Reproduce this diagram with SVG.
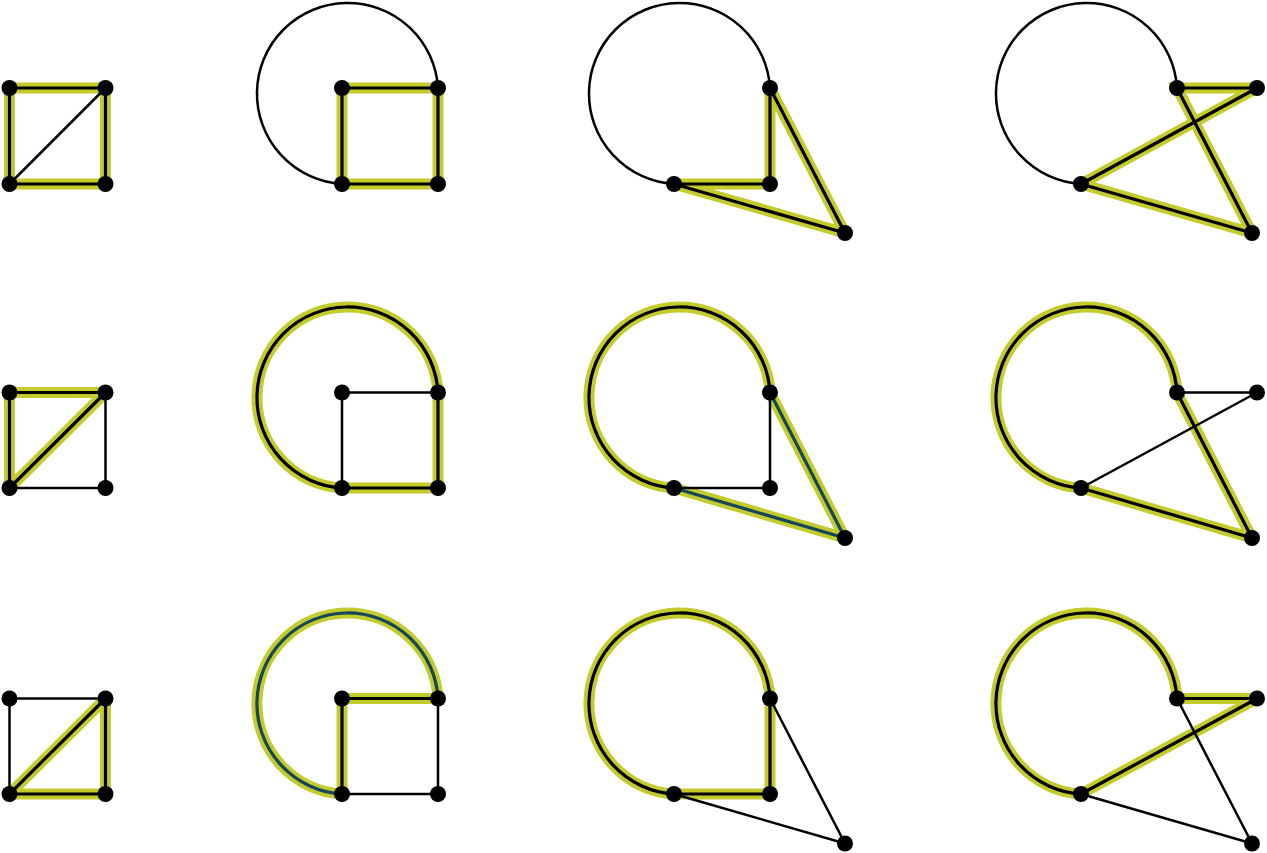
<svg xmlns="http://www.w3.org/2000/svg" width="1267" height="853" viewBox="0 0 1267 853">
<style>
.hl{fill:none;stroke:#c3cb2d;stroke-width:11;stroke-linecap:butt;stroke-linejoin:miter;stroke-miterlimit:2}
.e{fill:none;stroke:#000;stroke-width:2.5}
.ei{fill:none;stroke:#000;stroke-width:3.2;stroke-linejoin:miter;stroke-miterlimit:2}
.t{fill:none;stroke:#15465a;stroke-width:3.2;stroke-linejoin:miter;stroke-miterlimit:2}
.n{fill:#000}
</style>
<rect width="1267" height="853" fill="#fff"/>
<g id="connectors">
<g id="r1c1-edges">
<path class="hl" d="M9.5 88H105.5V184H9.5Z"/>
<path class="ei" d="M9.5 88H105.5V184H9.5Z"/>
<path class="e" d="M9.5 184L105.5 88"/>
</g>
<g id="r1c2-edges">
<path class="hl" d="M342 88H438V184H342Z"/>
<path class="ei" d="M342 88H438V184H342Z"/>
<path class="e" d="M438 88A90.6 90.6 0 1 0 342 184"/>
</g>
<g id="r1c3-edges">
<path class="hl" d="M770 88V184H674L845 233Z"/>
<path class="ei" d="M770 88V184H674L845 233Z"/>
<path class="e" d="M770 88A90.6 90.6 0 1 0 674 184"/>
</g>
<g id="r1c4-edges">
<path class="hl" d="M1177 88H1257L1081 184L1252 233Z"/>
<path class="ei" d="M1177 88H1257L1081 184L1252 233Z"/>
<path class="e" d="M1177 88A90.6 90.6 0 1 0 1081 184"/>
</g>
<g id="r2c1-edges">
<path class="hl" d="M9.5 488V392.5H105.5Z"/>
<path class="ei" d="M9.5 488V392.5H105.5Z"/>
<path class="e" d="M105.5 392.5V488H9.5"/>
</g>
<g id="r2c2-edges">
<path class="hl" d="M438 392.5A90.6 90.6 0 1 0 342 488H438V392.5"/>
<path class="ei" d="M438 392.5A90.6 90.6 0 1 0 342 488H438V392.5"/>
<path class="e" d="M342 488V392.5H438"/>
</g>
<g id="r2c3-edges">
<path class="hl" d="M770 392.5A90.6 90.6 0 1 0 674 488L845 538Z"/>
<path class="ei" d="M770 392.5A90.6 90.6 0 1 0 674 488"/>
<path class="t" d="M674 488L845 538L770 392.5"/>
<path class="e" d="M770 392.5V488H674"/>
</g>
<g id="r2c4-edges">
<path class="hl" d="M1177 392.5A90.6 90.6 0 1 0 1081 488L1252 538Z"/>
<path class="ei" d="M1177 392.5A90.6 90.6 0 1 0 1081 488L1252 538Z"/>
<path class="e" d="M1177 392.5H1257L1081 488"/>
</g>
<g id="r3c1-edges">
<path class="hl" d="M9.5 794L105.5 698.5V794Z"/>
<path class="ei" d="M9.5 794L105.5 698.5V794Z"/>
<path class="e" d="M105.5 698.5H9.5V794"/>
</g>
<g id="r3c2-edges">
<path class="hl" d="M438 698.5A90.6 90.6 0 1 0 342 794V698.5H438"/>
<path class="t" d="M438 698.5A90.6 90.6 0 1 0 342 794"/>
<path class="ei" d="M342 794V698.5H438"/>
<path class="e" d="M438 698.5V794H342"/>
</g>
<g id="r3c3-edges">
<path class="hl" d="M770 698.5A90.6 90.6 0 1 0 674 794H770Z"/>
<path class="ei" d="M770 698.5A90.6 90.6 0 1 0 674 794H770Z"/>
<path class="e" d="M770 698.5L845 843.5L674 794"/>
</g>
<g id="r3c4-edges">
<path class="hl" d="M1177 698.5A90.6 90.6 0 1 0 1081 794L1257 698.5H1177"/>
<path class="ei" d="M1177 698.5A90.6 90.6 0 1 0 1081 794L1257 698.5H1177"/>
<path class="e" d="M1177 698.5L1252 843.5L1081 794"/>
</g>
</g>
<g id="nodes">
<g id="r1c1-a"><circle class="n" cx="9.5" cy="88" r="8"/></g>
<g id="r1c1-b"><circle class="n" cx="105.5" cy="88" r="8"/></g>
<g id="r1c1-c"><circle class="n" cx="9.5" cy="184" r="8"/></g>
<g id="r1c1-d"><circle class="n" cx="105.5" cy="184" r="8"/></g>
<g id="r1c2-a"><circle class="n" cx="342" cy="88" r="8"/></g>
<g id="r1c2-b"><circle class="n" cx="438" cy="88" r="8"/></g>
<g id="r1c2-c"><circle class="n" cx="342" cy="184" r="8"/></g>
<g id="r1c2-d"><circle class="n" cx="438" cy="184" r="8"/></g>
<g id="r1c3-a"><circle class="n" cx="770" cy="88" r="8"/></g>
<g id="r1c3-b"><circle class="n" cx="674" cy="184" r="8"/></g>
<g id="r1c3-c"><circle class="n" cx="770" cy="184" r="8"/></g>
<g id="r1c3-d"><circle class="n" cx="845" cy="233" r="8"/></g>
<g id="r1c4-a"><circle class="n" cx="1177" cy="88" r="8"/></g>
<g id="r1c4-b"><circle class="n" cx="1081" cy="184" r="8"/></g>
<g id="r1c4-c"><circle class="n" cx="1257" cy="88" r="8"/></g>
<g id="r1c4-d"><circle class="n" cx="1252" cy="233" r="8"/></g>
<g id="r2c1-a"><circle class="n" cx="9.5" cy="392.5" r="8"/></g>
<g id="r2c1-b"><circle class="n" cx="105.5" cy="392.5" r="8"/></g>
<g id="r2c1-c"><circle class="n" cx="9.5" cy="488" r="8"/></g>
<g id="r2c1-d"><circle class="n" cx="105.5" cy="488" r="8"/></g>
<g id="r2c2-a"><circle class="n" cx="342" cy="392.5" r="8"/></g>
<g id="r2c2-b"><circle class="n" cx="438" cy="392.5" r="8"/></g>
<g id="r2c2-c"><circle class="n" cx="342" cy="488" r="8"/></g>
<g id="r2c2-d"><circle class="n" cx="438" cy="488" r="8"/></g>
<g id="r2c3-a"><circle class="n" cx="770" cy="392.5" r="8"/></g>
<g id="r2c3-b"><circle class="n" cx="674" cy="488" r="8"/></g>
<g id="r2c3-c"><circle class="n" cx="770" cy="488" r="8"/></g>
<g id="r2c3-d"><circle class="n" cx="845" cy="538" r="8"/></g>
<g id="r2c4-a"><circle class="n" cx="1177" cy="392.5" r="8"/></g>
<g id="r2c4-b"><circle class="n" cx="1081" cy="488" r="8"/></g>
<g id="r2c4-c"><circle class="n" cx="1257" cy="392.5" r="8"/></g>
<g id="r2c4-d"><circle class="n" cx="1252" cy="538" r="8"/></g>
<g id="r3c1-a"><circle class="n" cx="9.5" cy="698.5" r="8"/></g>
<g id="r3c1-b"><circle class="n" cx="105.5" cy="698.5" r="8"/></g>
<g id="r3c1-c"><circle class="n" cx="9.5" cy="794" r="8"/></g>
<g id="r3c1-d"><circle class="n" cx="105.5" cy="794" r="8"/></g>
<g id="r3c2-a"><circle class="n" cx="342" cy="698.5" r="8"/></g>
<g id="r3c2-b"><circle class="n" cx="438" cy="698.5" r="8"/></g>
<g id="r3c2-c"><circle class="n" cx="342" cy="794" r="8"/></g>
<g id="r3c2-d"><circle class="n" cx="438" cy="794" r="8"/></g>
<g id="r3c3-a"><circle class="n" cx="770" cy="698.5" r="8"/></g>
<g id="r3c3-b"><circle class="n" cx="674" cy="794" r="8"/></g>
<g id="r3c3-c"><circle class="n" cx="770" cy="794" r="8"/></g>
<g id="r3c3-d"><circle class="n" cx="845" cy="843.5" r="8"/></g>
<g id="r3c4-a"><circle class="n" cx="1177" cy="698.5" r="8"/></g>
<g id="r3c4-b"><circle class="n" cx="1081" cy="794" r="8"/></g>
<g id="r3c4-c"><circle class="n" cx="1257" cy="698.5" r="8"/></g>
<g id="r3c4-d"><circle class="n" cx="1252" cy="843.5" r="8"/></g>
</g>
</svg>
